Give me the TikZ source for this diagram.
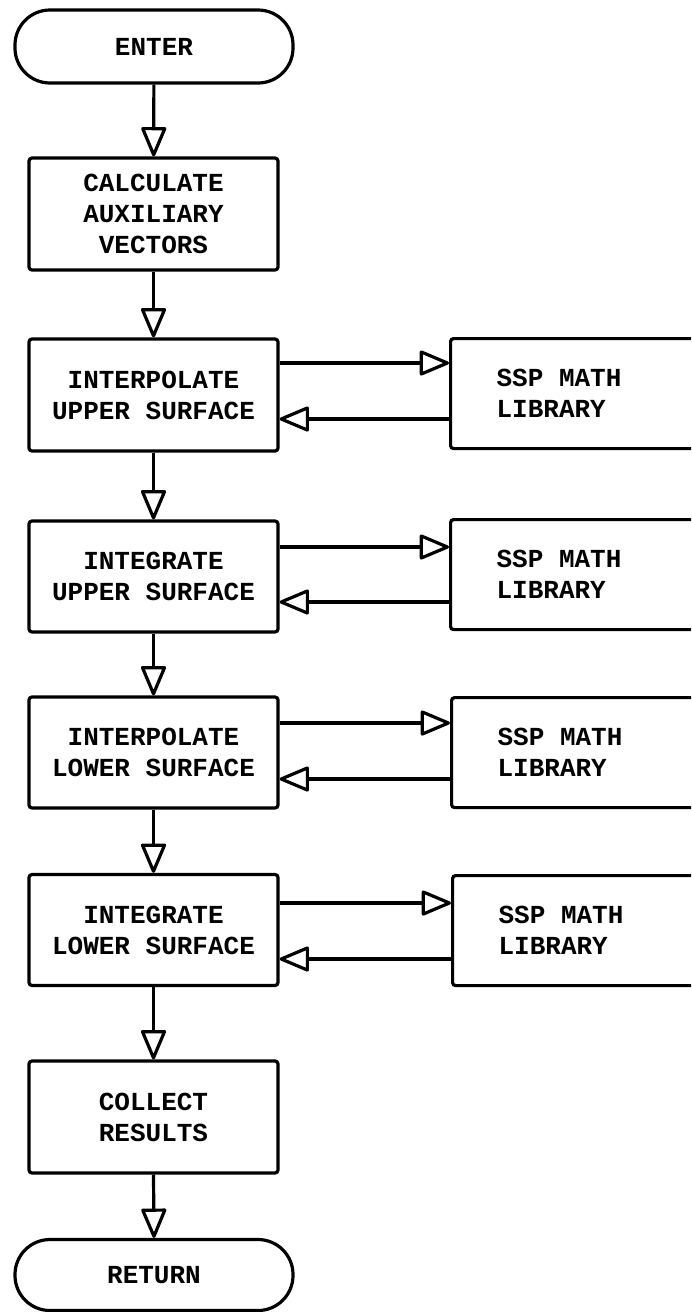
\documentclass[tikz,border=0pt]{standalone}
\usepackage{fontspec}
\setmainfont{Liberation Mono}
\usetikzlibrary{arrows.meta}
\begin{document}
\begin{tikzpicture}[x=1pt,y=1pt,
  every node/.style={font=\fontsize{26}{31}\selectfont\bfseries},
  lw/.style={line width=3.2pt},
  procbox/.style={draw, lw, rounded corners=3pt, minimum width=249pt, align=center, inner sep=0pt},
  termbox/.style={draw, lw, rounded corners=35pt, minimum width=278pt, inner sep=0pt},
  libbox/.style={draw, lw, rounded corners=3pt, anchor=north west, minimum width=250pt, minimum height=110pt, text width=158pt, align=left, inner xsep=46pt, inner ysep=0pt},
  flow/.style={lw, -{Triangle[open, round, length=32pt, width=26pt, line width=3.2pt]}}
]
\useasboundingbox (0,0) rectangle (691,-1312);
\clip (0,0) rectangle (691,-1312);

% main column
\node[termbox, minimum height=73pt] (enter) at (154,-46.5) {ENTER};
\node[procbox, minimum height=112pt] (calc) at (153.5,-214) {CALCULATE\\AUXILIARY\\VECTORS};
\node[procbox, minimum height=112pt] (iu) at (153.5,-395) {INTERPOLATE\\UPPER SURFACE};
\node[procbox, minimum height=111pt] (gu) at (153.5,-576.5) {INTEGRATE\\UPPER SURFACE};
\node[procbox, minimum height=111pt] (il) at (153.5,-752.5) {INTERPOLATE\\LOWER SURFACE};
\node[procbox, minimum height=111pt] (gl) at (153.5,-930) {INTEGRATE\\LOWER SURFACE};
\node[procbox, minimum height=112pt] (col) at (153.5,-1117) {COLLECT\\RESULTS};
\node[termbox, minimum height=71pt] (ret) at (154,-1275) {RETURN};

% library boxes
\node[libbox] (lib1) at (449,-337) {SSP\hspace{0.6em}MATH\\LIBRARY};
\node[libbox] (lib2) at (449,-518) {SSP\hspace{0.6em}MATH\\LIBRARY};
\node[libbox] (lib3) at (450,-696) {SSP\hspace{0.6em}MATH\\LIBRARY};
\node[libbox] (lib4) at (451,-874) {SSP\hspace{0.6em}MATH\\LIBRARY};

% vertical flow
\draw[flow] (enter) -- (calc);
\draw[flow] (calc) -- (iu);
\draw[flow] (iu) -- (gu);
\draw[flow] (gu) -- (il);
\draw[flow] (il) -- (gl);
\draw[flow] (gl) -- (col);
\draw[flow] (col.south) -- (ret.north);

% library calls
\draw[flow] (iu.east |- 0,-363) -- (lib1.west |- 0,-363);
\draw[flow] (lib1.west |- 0,-419) -- (iu.east |- 0,-419);
\draw[flow] (gu.east |- 0,-547) -- (lib2.west |- 0,-547);
\draw[flow] (lib2.west |- 0,-602) -- (gu.east |- 0,-602);
\draw[flow] (il.east |- 0,-723) -- (lib3.west |- 0,-723);
\draw[flow] (lib3.west |- 0,-779) -- (il.east |- 0,-779);
\draw[flow] (gl.east |- 0,-903) -- (lib4.west |- 0,-903);
\draw[flow] (lib4.west |- 0,-959) -- (gl.east |- 0,-959);
\end{tikzpicture}
\end{document}
